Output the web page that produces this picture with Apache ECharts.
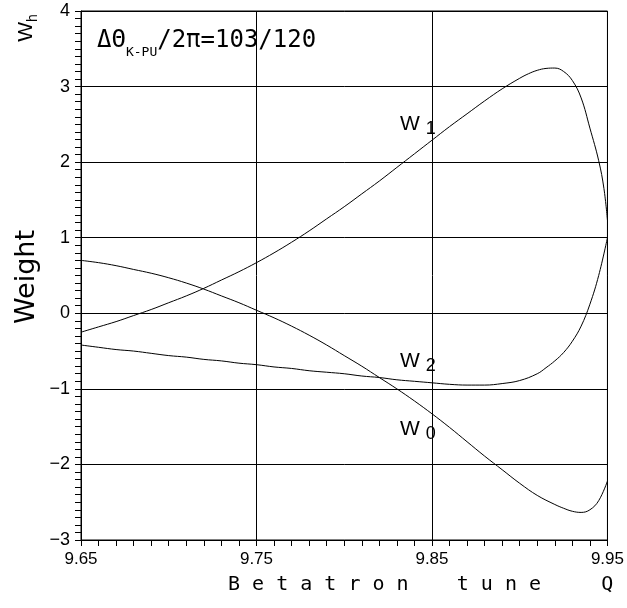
<!DOCTYPE html>
<html>
<head>
<meta charset="utf-8">
<script src="https://cdn.jsdelivr.net/npm/echarts@6/dist/echarts.min.js"></script>
<style>
  html, body { margin: 0; padding: 0; background: #fff; }
  #chart { width: 627px; height: 608px; }
</style>
</head>
<body>
<div id="chart"></div>
<script>
// betatron tune Q and weights
const tuneW0 = [9.65, 9.66, 9.67, 9.68, 9.69, 9.70, 9.71, 9.72, 9.73, 9.74, 9.75, 9.76, 9.77, 9.78, 9.79, 9.80, 9.81, 9.82, 9.83, 9.84, 9.85, 9.86, 9.87, 9.88, 9.89, 9.90, 9.91, 9.92, 9.925, 9.93, 9.935, 9.94, 9.945, 9.95];
const weightW0 = [0.70, 0.67, 0.63, 0.58, 0.53, 0.47, 0.40, 0.32, 0.23, 0.14, 0.04, -0.06, -0.17, -0.29, -0.42, -0.56, -0.70, -0.85, -1.00, -1.16, -1.33, -1.51, -1.70, -1.89, -2.07, -2.25, -2.41, -2.53, -2.58, -2.62, -2.635, -2.60, -2.48, -2.22];

const tuneW1 = [9.65, 9.66, 9.67, 9.68, 9.69, 9.70, 9.71, 9.72, 9.73, 9.74, 9.75, 9.76, 9.77, 9.78, 9.79, 9.80, 9.81, 9.82, 9.83, 9.84, 9.85, 9.86, 9.87, 9.88, 9.89, 9.90, 9.905, 9.91, 9.915, 9.92, 9.925, 9.93, 9.935, 9.94, 9.945, 9.948, 9.95];
const weightW1 = [-0.25, -0.18, -0.11, -0.03, 0.05, 0.14, 0.23, 0.33, 0.44, 0.55, 0.67, 0.80, 0.94, 1.09, 1.25, 1.41, 1.58, 1.75, 1.93, 2.11, 2.29, 2.47, 2.64, 2.81, 2.97, 3.11, 3.17, 3.215, 3.24, 3.245, 3.20, 3.08, 2.85, 2.45, 2.02, 1.65, 1.23];

const tuneW2 = [9.65, 9.66, 9.67, 9.68, 9.69, 9.70, 9.71, 9.72, 9.73, 9.74, 9.75, 9.76, 9.77, 9.78, 9.79, 9.80, 9.81, 9.82, 9.83, 9.84, 9.85, 9.86, 9.87, 9.88, 9.89, 9.90, 9.91, 9.915, 9.92, 9.925, 9.93, 9.935, 9.94, 9.945, 9.95];
const weightW2 = [-0.42, -0.45, -0.48, -0.50, -0.53, -0.56, -0.58, -0.61, -0.63, -0.66, -0.68, -0.71, -0.73, -0.76, -0.78, -0.80, -0.83, -0.85, -0.88, -0.90, -0.92, -0.94, -0.95, -0.95, -0.93, -0.89, -0.80, -0.72, -0.63, -0.52, -0.37, -0.17, 0.12, 0.50, 1.00];

const xTicks = [9.65, 9.75, 9.85, 9.95];
const yRange = [-3, 4];

const font = "'Liberation Sans', 'DejaVu Sans', sans-serif";
const mono = "'DejaVu Sans Mono', monospace";

function pairs(xs, ys) {
  return xs.map(function(x, i) { return [x, ys[i]]; });
}

function curve(name, xs, ys) {
  return {
    name: name,
    type: 'line',
    data: pairs(xs, ys),
    smooth: 0.4,
    showSymbol: false,
    silent: true,
    lineStyle: { color: '#000', width: 1 }
  };
}

// second axis that only draws the small outward ticks
function tickAxis(min, max, step, pos) {
  return {
    type: 'value',
    position: pos,
    min: min,
    max: max,
    interval: step,
    axisLine: { show: false, onZero: false },
    axisTick: { show: true, inside: false, length: 6, lineStyle: { color: '#000' } },
    axisLabel: { show: false },
    splitLine: { show: false }
  };
}

let chart = echarts.init(document.getElementById('chart'));

chart.setOption({
  animation: false,
  backgroundColor: '#fff',
  grid: {
    left: 81, right: 17, top: 11, bottom: 68,
    show: true, borderColor: '#000', borderWidth: 1
  },
  xAxis: [{
    type: 'value',
    position: 'bottom',
    min: xTicks[0],
    max: xTicks[xTicks.length - 1],
    interval: 0.1,
    axisLine: { onZero: false, lineStyle: { color: '#000', width: 1 } },
    axisTick: { show: false },
    splitLine: { show: true, lineStyle: { color: '#000', width: 1 } },
    axisLabel: {
      margin: 11, color: '#000', fontFamily: font, fontSize: 17,
      formatter: function(v) { return v.toFixed(2); }
    }
  }, tickAxis(xTicks[0], xTicks[xTicks.length - 1], 0.01, 'bottom')],
  yAxis: [{
    type: 'value',
    position: 'left',
    min: yRange[0],
    max: yRange[1],
    interval: 1,
    axisLine: { show: true, onZero: false, lineStyle: { color: '#000', width: 1 } },
    axisTick: { show: false },
    splitLine: { show: true, lineStyle: { color: '#000', width: 1 } },
    axisLabel: {
      margin: 11, color: '#000', fontFamily: font, fontSize: 18,
      formatter: function(v) { return v < 0 ? '\u2212' + Math.abs(v) : String(v); }
    }
  }, tickAxis(yRange[0], yRange[1], 0.1, 'left')],
  series: [
    curve('W0', tuneW0, weightW0),
    curve('W1', tuneW1, weightW1),
    curve('W2', tuneW2, weightW2)
  ],
  graphic: [
    // axis titles
    {
      type: 'text', x: 27, y: 277, rotation: Math.PI / 2,
      style: { text: 'Weight', fontFamily: "'DejaVu Sans', sans-serif", fontSize: 27, fill: '#000', align: 'center', verticalAlign: 'middle' }
    },
    {
      type: 'text', x: 26, y: 28, rotation: Math.PI / 2,
      style: {
        text: 'W{s|h}', fontFamily: font, fontSize: 21, fill: '#000', align: 'center', verticalAlign: 'middle',
        rich: { s: { fontFamily: font, fontSize: 14, lineHeight: 28, verticalAlign: 'bottom', fill: '#000' } }
      }
    },
    {
      type: 'text', x: 228, y: 585,
      style: { text: 'B e t a t r o n    t u n e     Q', fontFamily: mono, fontSize: 20, fill: '#000', align: 'left', verticalAlign: 'middle' }
    },
    // phase advance note
    {
      type: 'text', x: 97, y: 41,
      style: {
        text: '\u0394\u0398{s|K-PU}/2\u03c0=103/120', fontFamily: mono, fontSize: 24, fill: '#000', align: 'left', verticalAlign: 'middle',
        rich: { s: { fontFamily: mono, fontSize: 13, lineHeight: 36, verticalAlign: 'bottom', fill: '#000' } }
      }
    },
    // curve names
    {
      type: 'text', x: 400, y: 124,
      style: {
        text: 'W {s|1}', fontFamily: font, fontSize: 21, fill: '#000', align: 'left', verticalAlign: 'middle',
        rich: { s: { fontFamily: font, fontSize: 18, lineHeight: 28, verticalAlign: 'bottom', fill: '#000' } }
      }
    },
    {
      type: 'text', x: 400, y: 361,
      style: {
        text: 'W {s|2}', fontFamily: font, fontSize: 21, fill: '#000', align: 'left', verticalAlign: 'middle',
        rich: { s: { fontFamily: font, fontSize: 18, lineHeight: 28, verticalAlign: 'bottom', fill: '#000' } }
      }
    },
    {
      type: 'text', x: 400, y: 429,
      style: {
        text: 'W {s|0}', fontFamily: font, fontSize: 21, fill: '#000', align: 'left', verticalAlign: 'middle',
        rich: { s: { fontFamily: font, fontSize: 18, lineHeight: 28, verticalAlign: 'bottom', fill: '#000' } }
      }
    }
  ]
});
</script>
</body>
</html>
